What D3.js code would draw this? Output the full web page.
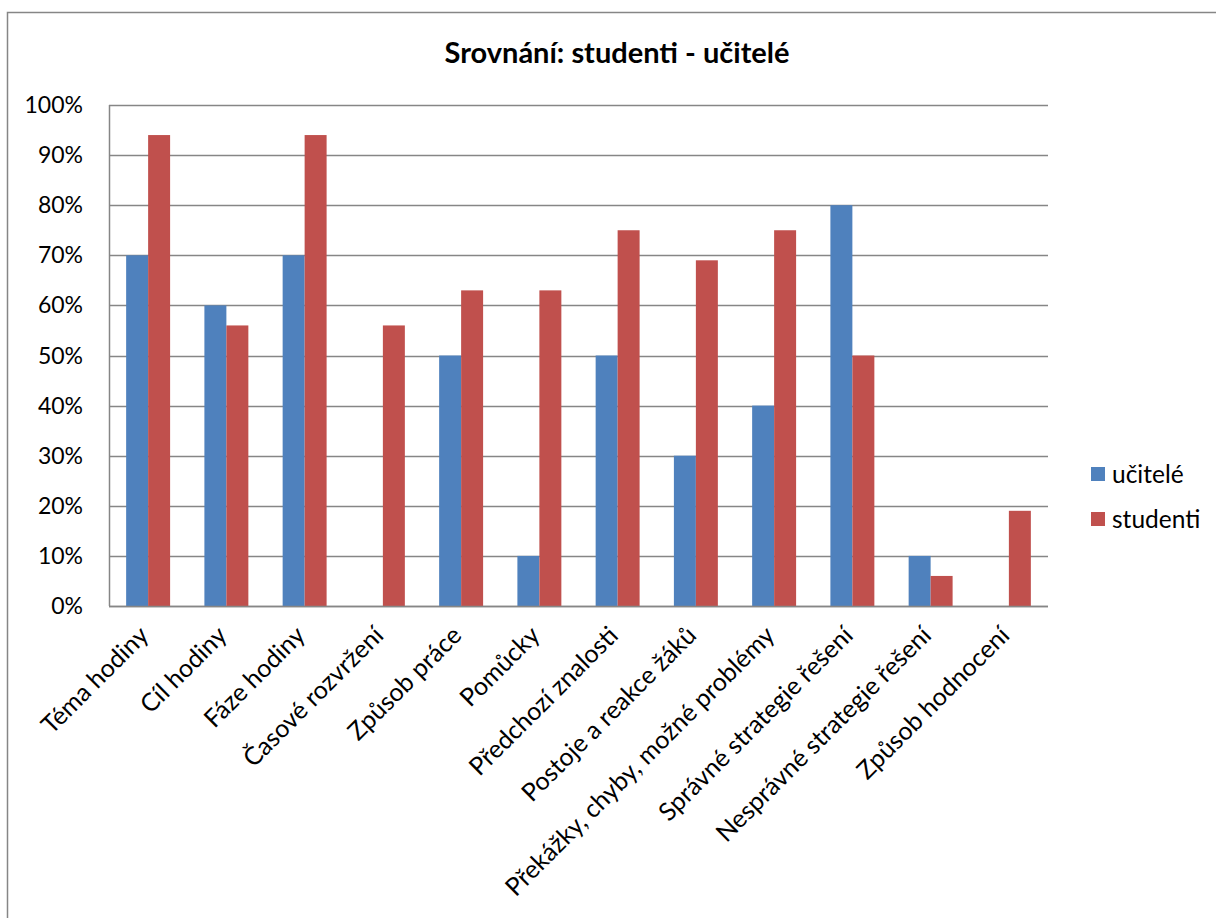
<!DOCTYPE html>
<html>
<head>
<meta charset="utf-8">
<script src="https://cdn.jsdelivr.net/npm/d3@7"></script>
<style>
  body { margin: 0; background: #fff; }
  text { font-family: Lato, "Liberation Sans", sans-serif; }
</style>
</head>
<body>
<script>
var categories = ["Téma hodiny", "Cíl hodiny", "Fáze hodiny", "Časové rozvržení", "Způsob práce",
  "Pomůcky", "Předchozí znalosti", "Postoje a reakce žáků", "Překážky, chyby, možné problémy",
  "Správné strategie řešení", "Nesprávné strategie řešení", "Způsob hodnocení"];
var ucitele = [70, 60, 70, 0, 50, 10, 50, 30, 40, 80, 10, 0];
var studenti = [94, 56, 94, 56, 63, 63, 75, 69, 75, 50, 6, 19];
var seriesNames = ["učitelé", "studenti"];
var seriesColors = ["#4F81BD", "#C0504D"];
var yTicks = [0, 10, 20, 30, 40, 50, 60, 70, 80, 90, 100];

var W = 1216, H = 918;
var m = { left: 109, top: 105, right: 1048, bottom: 606 };

var svg = d3.select("body").append("svg")
    .attr("width", W)
    .attr("height", H);

svg.append("rect")
    .attr("x", 7.5).attr("y", 12.5)
    .attr("width", W + 20).attr("height", H + 20)
    .attr("fill", "#fff")
    .attr("stroke", "#868686")
    .attr("stroke-width", 1.5);

svg.append("text")
    .text("Srovnání: studenti - učitelé")
    .attr("x", 617).attr("y", 63)
    .attr("text-anchor", "middle")
    .attr("font-size", 29)
    .attr("font-weight", "bold");

var x = d3.scaleBand().domain(categories).range([m.left, m.right]);
var xs = d3.scaleBand().domain(seriesNames).range([0, x.bandwidth()]).paddingInner(0).paddingOuter(0.78);
var y = d3.scaleLinear().domain([0, 100]).range([m.bottom, m.top]);

// gridlines
svg.append("g")
    .selectAll("line")
    .data(yTicks)
    .join("line")
    .attr("x1", m.left).attr("x2", m.right)
    .attr("y1", d => Math.round(y(d)) + 0.5).attr("y2", d => Math.round(y(d)) + 0.5)
    .attr("stroke", "#868686")
    .attr("stroke-width", 1.5);

// y labels
svg.append("g")
    .selectAll("text")
    .data(yTicks)
    .join("text")
    .text(d => d + "%")
    .attr("x", 83)
    .attr("y", d => y(d))
    .attr("dy", "0.35em")
    .attr("text-anchor", "end")
    .attr("font-size", 23);

// bars
var series = [ucitele, studenti];
series.forEach(function(vals, si) {
  svg.append("g")
    .selectAll("rect")
    .data(vals)
    .join("rect")
    .attr("x", (d, i) => x(categories[i]) + xs(seriesNames[si]))
    .attr("width", xs.bandwidth())
    .attr("y", d => y(d))
    .attr("height", d => y(0) - y(d))
    .attr("fill", seriesColors[si]);
});

// axis lines
svg.append("line")
    .attr("x1", m.left + 0.5).attr("x2", m.left + 0.5)
    .attr("y1", m.top).attr("y2", m.bottom)
    .attr("stroke", "#868686").attr("stroke-width", 1.5);
svg.append("line")
    .attr("x1", m.left).attr("x2", m.right)
    .attr("y1", m.bottom + 0.5).attr("y2", m.bottom + 0.5)
    .attr("stroke", "#868686").attr("stroke-width", 1.5);

// x labels
svg.append("g")
    .selectAll("text")
    .data(categories)
    .join("text")
    .text(d => d)
    .attr("transform", d => "translate(" + (x(d) + x.bandwidth() / 2 + 2) + "," + 637 + ") rotate(-45)")
    .attr("text-anchor", "end")
    .attr("font-size", 25);

// legend
var leg = svg.append("g")
    .selectAll("g")
    .data(seriesNames)
    .join("g")
    .attr("transform", (d, i) => "translate(1091," + (467 + i * 45) + ")");
leg.append("rect")
    .attr("width", 14).attr("height", 14)
    .attr("fill", (d, i) => seriesColors[i]);
leg.append("text")
    .text(d => d)
    .attr("x", 21).attr("y", 7)
    .attr("dy", "0.35em")
    .attr("font-size", 24.5);
</script>
</body>
</html>
